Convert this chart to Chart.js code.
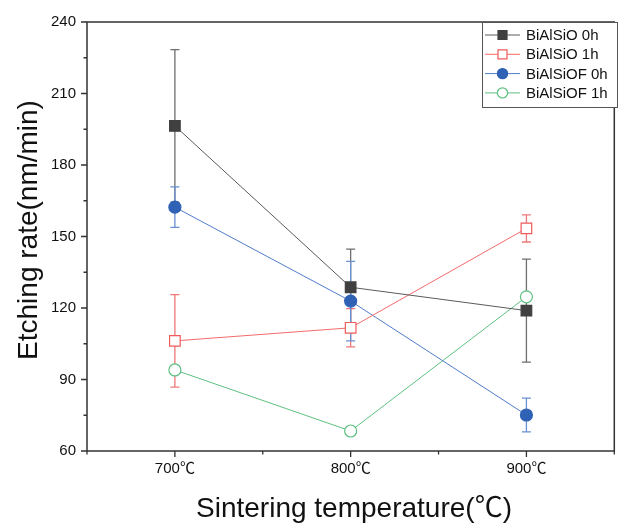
<!DOCTYPE html>
<html>
<head>
<meta charset="utf-8">
<script src="https://cdn.jsdelivr.net/npm/chart.js@4.4.0/dist/chart.umd.min.js"></script>
<style>
    html, body { margin: 0; padding: 0; background: #fff; }
    #wrap { width: 623px; height: 523px; }
</style>
</head>
<body>
<div id="wrap"><canvas id="chart"></canvas></div>
<script>
const categories = ["700℃", "800℃", "900℃"];
const seriesNames = ["BiAlSiO 0h", "BiAlSiO 1h", "BiAlSiOF 0h", "BiAlSiOF 1h"];

const bialsio0 = [196.4, 128.7, 118.9];
const bialsio0Err = [32, 16, 21.6];
const bialsio1 = [106.2, 111.7, 153.4];
const bialsio1Err = [19.4, 8, 5.7];
const bialsiof0 = [162.3, 122.9, 75.1];
const bialsiof0Err = [8.5, 16.7, 7.1];
const bialsiof1 = [94, 68.4, 124.7];

const yTicks = [60, 90, 120, 150, 180, 210, 240];

const font = "Arial, 'Liberation Sans', 'Noto Sans CJK SC', sans-serif";
const canvas = document.querySelector("#chart");

function points(values) {
    return values.map((v, i) => ({ x: i, y: v }));
}

const styles = [
    { line: "#5a5a5a", fill: "#404040", border: "#404040", err: "#6e6e6e", shape: "rect", r: 7.5 },
    { line: "#f26a6a", fill: "#ffffff", border: "#ef5a5a", err: "#f07878", shape: "rect", r: 7.5 },
    { line: "#4f7cc8", fill: "#2f62b5", border: "#2f62b5", err: "#6a90d2", shape: "circle", r: 6 },
    { line: "#5cc080", fill: "#ffffff", border: "#5cc080", err: "#5cc080", shape: "circle", r: 6 }
];

const allValues = [bialsio0, bialsio1, bialsiof0, bialsiof1];
const allErrors = [bialsio0Err, bialsio1Err, bialsiof0Err, null];

const datasets = allValues.map((vals, i) => ({
    label: seriesNames[i],
    data: points(vals),
    errors: allErrors[i],
    borderColor: styles[i].line,
    borderWidth: 1,
    pointStyle: styles[i].shape,
    pointRadius: styles[i].r,
    pointHoverRadius: styles[i].r,
    pointBackgroundColor: styles[i].fill,
    pointBorderColor: styles[i].border,
    pointBorderWidth: 1.2,
    errColor: styles[i].err,
    tension: 0
}));

const decorPlugin = {
    id: "decor",
    beforeDatasetsDraw(chart) {
        const ctx = chart.ctx;
        const xs = chart.scales.x;
        const ys = chart.scales.y;
        ctx.save();
        chart.data.datasets.forEach((ds) => {
            if (!ds.errors) return;
            ctx.strokeStyle = ds.errColor;
            ctx.lineWidth = 1.3;
            ds.data.forEach((p, i) => {
                const e = ds.errors[i];
                const x = xs.getPixelForValue(p.x);
                const yTop = ys.getPixelForValue(p.y + e);
                const yBot = ys.getPixelForValue(p.y - e);
                ctx.beginPath();
                ctx.moveTo(x, yTop);
                ctx.lineTo(x, yBot);
                ctx.moveTo(x - 4.5, yTop);
                ctx.lineTo(x + 4.5, yTop);
                ctx.moveTo(x - 4.5, yBot);
                ctx.lineTo(x + 4.5, yBot);
                ctx.stroke();
            });
        });
        ctx.restore();
    },
    afterDraw(chart) {
        const ctx = chart.ctx;
        const a = chart.chartArea;
        const xs = chart.scales.x;
        const ys = chart.scales.y;
        ctx.save();

        // frame
        ctx.strokeStyle = "#333";
        ctx.lineWidth = 1.5;
        ctx.strokeRect(a.left, a.top, a.right - a.left, a.bottom - a.top);

        // ticks, major and minor
        ctx.lineWidth = 1.3;
        ctx.beginPath();
        for (let v = 60; v <= 240; v += 15) {
            const y = ys.getPixelForValue(v);
            const len = v % 30 === 0 ? 6 : 3.5;
            ctx.moveTo(a.left, y);
            ctx.lineTo(a.left - len, y);
        }
        for (let v = -0.5; v <= 2.5; v += 0.5) {
            const x = xs.getPixelForValue(v);
            const len = Number.isInteger(v) ? 6 : 3.5;
            ctx.moveTo(x, a.bottom);
            ctx.lineTo(x, a.bottom + len);
        }
        ctx.stroke();

        // axis titles
        ctx.fillStyle = "#111";
        ctx.font = "28px " + font;
        ctx.textAlign = "center";
        ctx.textBaseline = "alphabetic";
        ctx.fillText("Sintering temperature(℃)", 354, 517);
        ctx.translate(37, 230);
        ctx.rotate(-Math.PI / 2);
        ctx.fillText("Etching rate(nm/min)", 0, 0);
        ctx.setTransform(1, 0, 0, 1, 0, 0);

        // legend
        const bx = 482, by = 22, bw = 135, bh = 85;
        ctx.fillStyle = "#fff";
        ctx.fillRect(bx, by, bw, bh);
        ctx.strokeStyle = "#555";
        ctx.lineWidth = 1;
        ctx.strokeRect(bx + 0.5, by + 0.5, bw, bh);
        ctx.font = "15px " + font;
        ctx.textAlign = "left";
        ctx.textBaseline = "middle";
        chart.data.datasets.forEach((ds, i) => {
            const y = 35 + i * 19.3;
            ctx.strokeStyle = ds.borderColor;
            ctx.lineWidth = 1;
            ctx.beginPath();
            ctx.moveTo(485, y);
            ctx.lineTo(520, y);
            ctx.stroke();
            ctx.fillStyle = ds.pointBackgroundColor;
            ctx.strokeStyle = ds.pointBorderColor;
            ctx.lineWidth = ds.pointBorderWidth;
            ctx.beginPath();
            if (ds.pointStyle === "rect") {
                const s = ds.pointRadius * 0.85 * Math.SQRT1_2;
                ctx.rect(502.5 - s, y - s, 2 * s, 2 * s);
            } else {
                ctx.arc(502.5, y, ds.pointRadius * 0.85, 0, Math.PI * 2);
            }
            ctx.fill();
            ctx.stroke();
            ctx.fillStyle = "#111";
            ctx.fillText(ds.label, 526, y + 1);
        });
        ctx.restore();
    }
};

new Chart(canvas, {
    type: "line",
    data: { datasets: datasets },
    options: {
        responsive: true,
        maintainAspectRatio: false,
        animation: false,
        layout: { padding: { top: 22, right: 4, left: 0, bottom: 0 } },
        plugins: {
            legend: { display: false },
            tooltip: { enabled: false }
        },
        scales: {
            x: {
                type: "linear",
                min: -0.5,
                max: 2.5,
                grid: { display: false, drawTicks: false },
                border: { display: false },
                afterFit: (s) => { s.height = 72; },
                afterBuildTicks: (s) => {
                    s.ticks = categories.map((c, i) => ({ value: i }));
                },
                ticks: {
                    padding: 9,
                    color: "#111",
                    font: { family: font, size: 15 },
                    callback: (v) => categories[v] ?? ""
                }
            },
            y: {
                min: 60,
                max: 240,
                grid: { display: false, drawTicks: false },
                border: { display: false },
                afterFit: (s) => { s.width = 87; },
                afterBuildTicks: (s) => {
                    s.ticks = yTicks.map((v) => ({ value: v }));
                },
                ticks: {
                    padding: 11,
                    color: "#111",
                    font: { family: font, size: 15 }
                }
            }
        }
    },
    plugins: [decorPlugin]
});
</script>
</body>
</html>
